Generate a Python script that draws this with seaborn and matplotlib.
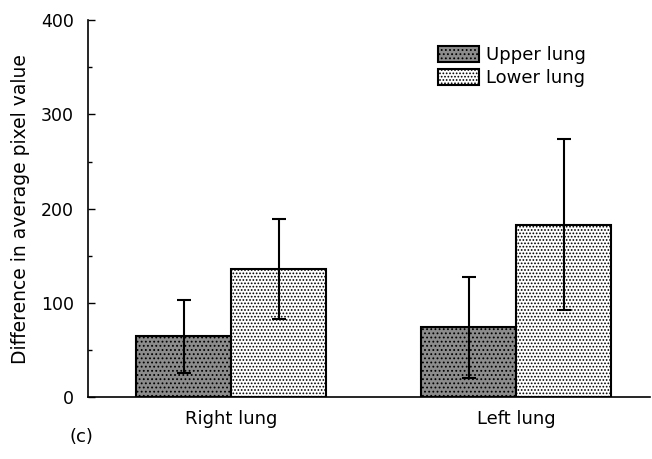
import matplotlib
matplotlib.use("Agg")
import matplotlib.pyplot as plt
import seaborn as sns
import pandas as pd
from matplotlib.ticker import MultipleLocator
from matplotlib.patches import Patch

categories = ["Right lung", "Left lung"]
series = ["Upper lung", "Lower lung"]
upper_vals = [65, 74]
lower_vals = [136, 183]
upper_err_low = [25, 20]
upper_err_high = [103, 127]
lower_err_low = [83, 92]
lower_err_high = [189, 274]

df = pd.DataFrame({
    "lung": categories * 2,
    "part": [series[0]] * 2 + [series[1]] * 2,
    "value": upper_vals + lower_vals,
})

sns.set_style("white")
plt.rcParams["font.family"] = ["DejaVu Sans"]
plt.rcParams["hatch.linewidth"] = 0.8
plt.rcParams["text.color"] = "black"
plt.rcParams["axes.labelcolor"] = "black"
plt.rcParams["xtick.color"] = "black"
plt.rcParams["ytick.color"] = "black"

fig = plt.figure(figsize=(6.52, 4.59), dpi=100)
ax = fig.add_axes([0.135, 0.135, 0.862, 0.821])

sns.barplot(data=df, x="lung", y="value", hue="part", order=categories,
            hue_order=series, width=0.667, errorbar=None, ax=ax,
            palette=["#8a8a8a", "#ffffff"], edgecolor="black", linewidth=1.5,
            legend=False, saturation=1)

styles = {
    series[0]: dict(facecolor="#8c8c8c", hatch="....", hatchcolor="#606060"),
    series[1]: dict(facecolor="#ffffff", hatch=".....", hatchcolor="#a8a8a8"),
}
lows = [upper_err_low, lower_err_low]
highs = [upper_err_high, lower_err_high]
vals = [upper_vals, lower_vals]
bar_containers = list(ax.containers)[:2]
for ci, cont in enumerate(bar_containers):
    st = styles[series[ci]]
    xs = []
    for p in cont.patches:
        p.set_facecolor(st["facecolor"])
        p.set_hatch(st["hatch"])
        try:
            p.set_hatchcolor(st["hatchcolor"])
        except Exception:
            pass
        p.set_edgecolor("black")
        xs.append(p.get_x() + p.get_width() / 2)
    v = vals[ci]
    yerr = [[v[i] - lows[ci][i] for i in range(2)], [highs[ci][i] - v[i] for i in range(2)]]
    ax.errorbar(xs, v, yerr=yerr, fmt="none", ecolor="black", elinewidth=1.5,
                capsize=5, capthick=1.5, zorder=5)

ax.set_ylim(0, 400)
ax.set_xlim(-0.502, 1.47)
ax.yaxis.set_major_locator(MultipleLocator(100))
ax.yaxis.set_minor_locator(MultipleLocator(50))
ax.yaxis.set_tick_params(which="both", direction="in", left=True, width=1, color="black")
ax.yaxis.set_tick_params(which="major", length=5, labelsize=12.5, pad=10)
ax.yaxis.set_tick_params(which="minor", length=3)
ax.tick_params(axis="x", length=0, labelsize=13, pad=9)
for s in ["top", "right"]:
    ax.spines[s].set_visible(False)
for s in ["left", "bottom"]:
    ax.spines[s].set_color("black")
    ax.spines[s].set_linewidth(1.2)
ax.set_xlabel("")
ax.set_ylabel("Difference in average pixel value", fontsize=13.5, labelpad=8)

handles = [Patch(facecolor=styles[s]["facecolor"], hatch=styles[s]["hatch"],
                 edgecolor="black", linewidth=1.5) for s in series]
ax.legend(handles, series, loc="upper left", bbox_to_anchor=(0.593, 0.975),
          frameon=False, fontsize=13, handlelength=2.3, handleheight=1.0,
          handletextpad=0.4, labelspacing=0.25)

fig.text(0.107, 0.048, "(c)", fontsize=13, ha="left", va="center")

fig.savefig("out.png", dpi=100)
